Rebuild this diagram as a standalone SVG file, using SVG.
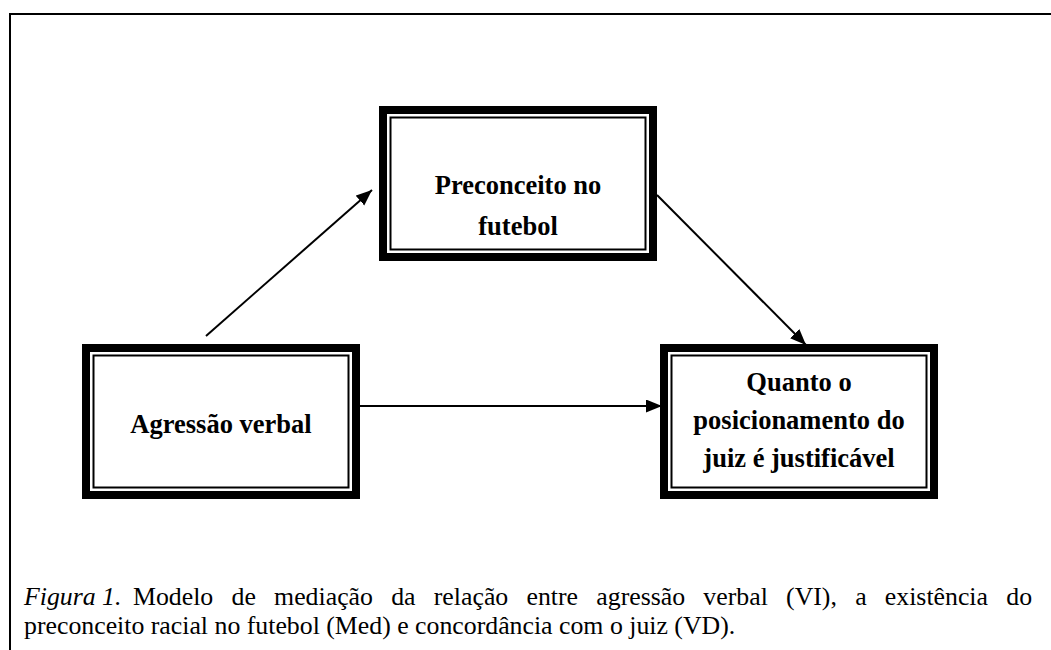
<svg xmlns="http://www.w3.org/2000/svg" width="1051" height="650" viewBox="0 0 1051 650">
<style>
.frame{fill:none;stroke:#000;stroke-width:2}
.thick{fill:#fff;stroke:#000;stroke-width:8}
.thin{fill:none;stroke:#000;stroke-width:2}
.lbl{font-family:"Liberation Serif","Times New Roman",serif;font-weight:bold;font-size:26.5px;fill:#000;text-anchor:middle}
.cap{font-family:"Liberation Serif","Times New Roman",serif;font-size:25.8px;fill:#000}
.conn{stroke:#000;stroke-width:2;fill:none}
</style>
<defs>
<marker id="ah" markerUnits="userSpaceOnUse" markerWidth="17" markerHeight="14" refX="16" refY="6.5" orient="auto">
<path d="M0,0 L16,6.5 L0,13 Z" fill="#000"/>
</marker>
</defs>
<rect width="1051" height="650" fill="#fff"/>
<rect class="frame" x="10" y="14" width="1100" height="700"/>
<g id="connectors">
<line class="conn" x1="206" y1="336" x2="372" y2="190" marker-end="url(#ah)"/>
<line class="conn" x1="657" y1="195" x2="806" y2="345" marker-end="url(#ah)"/>
<line class="conn" x1="360" y1="406" x2="662" y2="406" marker-end="url(#ah)"/>
</g>
<g id="node-preconceito">
<rect class="thick" x="383" y="110" width="270" height="147"/>
<rect class="thin" x="390.5" y="117.5" width="255" height="132"/>
<text class="lbl" x="518" y="194">Preconceito no</text>
<text class="lbl" x="518" y="235">futebol</text>
</g>
<g id="node-agressao">
<rect class="thick" x="86" y="348" width="270" height="147"/>
<rect class="thin" x="93.5" y="355.5" width="255" height="132"/>
<text class="lbl" x="221" y="433">Agressão verbal</text>
</g>
<g id="node-juiz">
<rect class="thick" x="664" y="348" width="270" height="147"/>
<rect class="thin" x="671.5" y="355.5" width="255" height="132"/>
<text class="lbl" x="799" y="391">Quanto o</text>
<text class="lbl" x="799" y="429">posicionamento do</text>
<text class="lbl" x="799" y="467">juiz é justificável</text>
</g>
<g id="caption">
<text class="cap" x="24" y="605"><tspan font-style="italic">Figura 1.</tspan><tspan x="133" word-spacing="11.8">Modelo de mediação da relação entre agressão verbal (VI), a existência do</tspan></text>
<text class="cap" x="24" y="634">preconceito racial no futebol (Med) e concordância com o juiz (VD).</text>
</g>
</svg>
